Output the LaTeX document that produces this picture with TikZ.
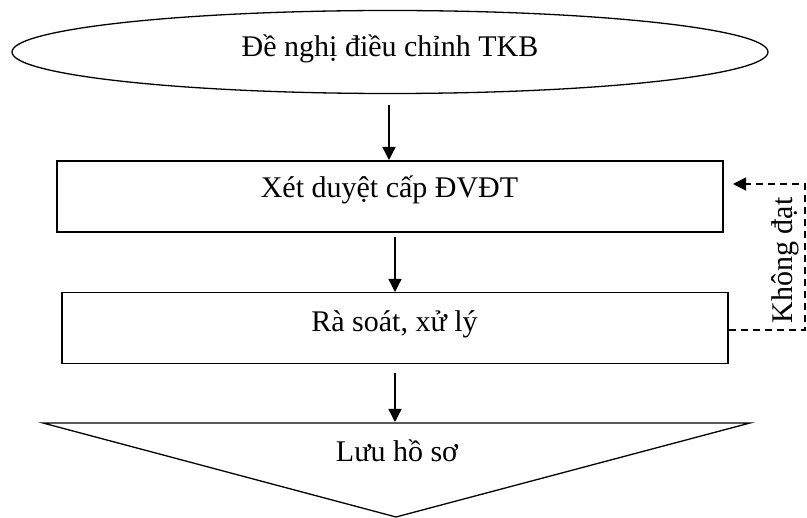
\documentclass[tikz,border=0pt]{standalone}
\usepackage{fontspec}
\setmainfont{Liberation Serif}
\usetikzlibrary{arrows.meta,shapes.geometric}
\begin{document}
\begin{tikzpicture}[x=1pt,y=-1pt,
  line width=1.3pt,
  lbl/.style={font=\fontsize{30}{34}\selectfont,inner sep=0pt,anchor=base},
  flow/.style={-{Triangle[length=13pt,width=13pt]}},
  stepbox/.style={draw,rectangle,minimum height=71pt}]
\useasboundingbox (0,0) rectangle (807,518);
% start: request
\node[draw,ellipse,minimum width=756pt,minimum height=83pt,inner sep=0pt] (req) at (390,52) {};
\node[lbl] (reqt) at (390,57) {Đề nghị điều chỉnh TKB};
% review steps
\node[stepbox,minimum width=666pt] (rev) at (390,196.5) {};
\node[lbl] (revt) at (389.5,198) {Xét duyệt cấp ĐVĐT};
\node[stepbox,minimum width=666pt] (chk) at (395,328) {};
\node[lbl] (chkt) at (394.5,332) {Rà soát, xử lý};
% archive (inverted triangle)
\coordinate (tl) at (43,423);
\coordinate (tr) at (750,423);
\coordinate (tb) at (396,517);
\draw (tl) -- (tr) -- (tb) -- cycle;
\node[lbl] (arc) at (397,462) {Lưu hồ sơ};
% main flow
\coordinate (a1s) at (389,105);
\coordinate (a1e) at (389,160);
\draw[flow] (a1s) -- (a1e);
\coordinate (a2s) at (395,237);
\coordinate (a2e) at (395,292);
\draw[flow] (a2s) -- (a2e);
\coordinate (a3s) at (395,373);
\coordinate (a3e) at (395,422);
\draw[flow] (a3s) -- (a3e);
% rejection loop
\coordinate (lb) at (805,330);
\coordinate (lt) at (805,184);
\draw[dashed,dash pattern=on 7pt off 5pt,flow] (chk.east |- lb) -- (lb) -- (lt) -- (733,184);
\node[lbl,rotate=90] (ng) at (792,260.5) {Không đạt};
\end{tikzpicture}
\end{document}
